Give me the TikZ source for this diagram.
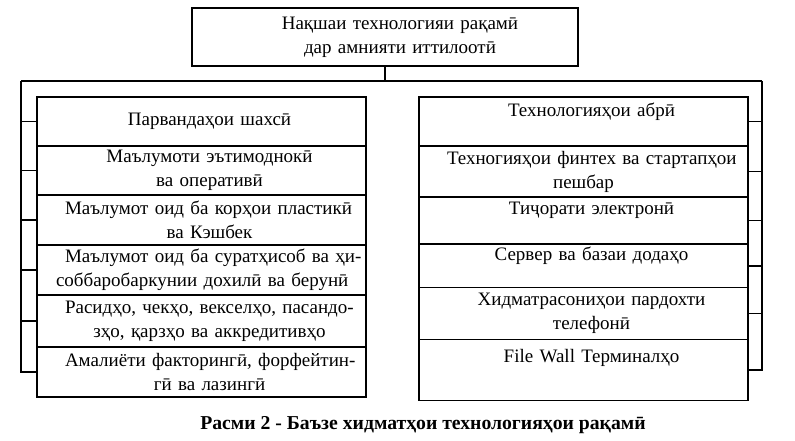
\documentclass[tikz,border=0pt]{standalone}
\usepackage{fontspec}
\setmainfont{Liberation Serif}
\usepackage{tikz}
\usetikzlibrary{positioning}

\newcommand{\spreadline}[1]{\makebox[296pt][s]{#1}}

\begin{document}
\begin{tikzpicture}[x=1pt, y=-1pt,
    font=\fontsize{19}{24}\selectfont,
    cell/.style={draw, line width=1.5pt, outer sep=0pt, inner xsep=12pt,
        inner ysep=3pt, text width=305pt,
        execute at begin node={\leftskip=16pt plus 1fil\rightskip=0pt plus 1fil
            \parfillskip=0pt\hbadness=10000\hfuzz=20pt}},
    link/.style={line width=1.5pt}]
    \useasboundingbox (0,0) rectangle (795,441);

    % Top box
    \node[draw, line width=1.5pt, outer sep=0pt, inner xsep=12pt, text width=362pt,
        minimum height=58pt,
        execute at begin node={\leftskip=30pt plus 1fil\rightskip=0pt plus 1fil
            \parfillskip=0pt}] (top) at (385,37)
        {Нақшаи технологияи рақамӣ\\ дар амнияти иттилоотӣ};

    % Left column
    \node[cell, anchor=north west, minimum height=49pt] (l1) at (37,97)
        {Парвандаҳои шахсӣ};
    \node[cell, below=0pt of l1, minimum height=49pt] (l2)
        {Маълумоти эътимоднокӣ\\ ва оперативӣ};
    \node[cell, below=0pt of l2, minimum height=50pt] (l3)
        {\spreadline{Маълумот оид ба корҳои пластикӣ}\\ ва Кэшбек};
    \node[cell, below=0pt of l3, minimum height=50pt] (l4)
        {\spreadline{Маълумот оид ба суратҳисоб ва ҳи-}\\
        \hspace*{-9pt}\makebox[306pt][s]{соббаробаркунии дохилӣ ва берунӣ}};
    \node[cell, below=0pt of l4, minimum height=52pt] (l5)
        {\spreadline{Расидҳо, чекҳо, векселҳо, пасандо-}\\ зҳо, қарзҳо ва аккредитивҳо};
    \node[cell, below=0pt of l5, minimum height=50pt] (l6)
        {\spreadline{Амалиёти факторингӣ, форфейтин-}\\ гӣ ва лазингӣ};

    % Right column
    \node[cell, anchor=north west, minimum height=49pt] (r1) at (419,97)
        {Технологияҳои абрӣ\\ ~};
    \node[cell, below=0pt of r1, minimum height=51pt] (r2)
        {\spreadline{Техногияҳои финтех ва стартапҳои}\\ \hspace*{-16pt}пешбар};
    \node[cell, below=0pt of r2, minimum height=47pt] (r3)
        {Тиҷорати электронӣ\\ ~};
    \node[cell, below=0pt of r3, minimum height=43pt] (r4)
        {Сервер ва базаи додаҳо\\ ~};
    \node[cell, below=0pt of r4, minimum height=52pt] (r5)
        {Хидматрасониҳои пардохти\\ телефонӣ};
    \node[cell, below=0pt of r5, minimum height=61pt] (r6)
        {File Wall Терминалҳо\\[4pt] ~};

    % Bus lines
    \coordinate (busL) at (21,81);
    \coordinate (busR) at (762,81);
    \draw[link] (top.south) -- (top.south |- busL);
    \draw[link] (busL) -- (busR);
    \draw[link] (busL) -- (busL |- l6.west) -- (l6.west);
    \draw[link] (busR) -- (busR |- r6.east) -- (r6.east);
    \foreach \i in {1,...,5} {
        \draw[link] (busL |- l\i.west) -- (l\i.west);
        \draw[link] (busR |- r\i.east) -- (r\i.east);
    }

    % Caption
    \node[font=\fontsize{19.7}{24}\selectfont\bfseries] (cap) at (423,425)
        {Расми 2 - Баъзе хидматҳои технологияҳои рақамӣ};
\end{tikzpicture}
\end{document}
